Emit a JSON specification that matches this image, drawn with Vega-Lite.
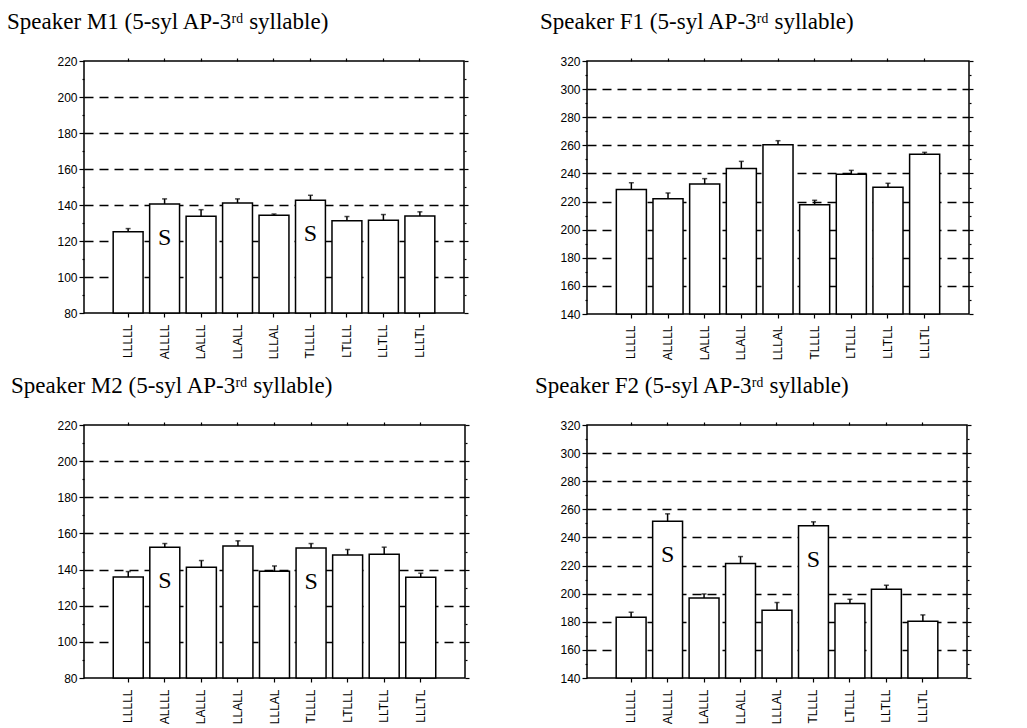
{
  "$schema": "https://vega.github.io/schema/vega-lite/v6.json",
  "background": "white",
  "padding": {"left": 6, "top": 10, "right": 5, "bottom": 0},
  "datasets": {
    "M1": [
      {"pattern": "LLLLL", "mean": 125.1, "upper": 126.9, "stress": ""},
      {"pattern": "ALLLL", "mean": 140.6, "upper": 143.4, "stress": "S"},
      {"pattern": "LALLL", "mean": 133.7, "upper": 137.4, "stress": ""},
      {"pattern": "LLALL", "mean": 141.1, "upper": 143.4, "stress": ""},
      {"pattern": "LLLAL", "mean": 134.3, "upper": 135.0, "stress": ""},
      {"pattern": "TLLLL", "mean": 142.6, "upper": 145.4, "stress": "S"},
      {"pattern": "LTLLL", "mean": 131.3, "upper": 133.6, "stress": ""},
      {"pattern": "LLTLL", "mean": 131.5, "upper": 134.7, "stress": ""},
      {"pattern": "LLLTL", "mean": 133.9, "upper": 136.2, "stress": ""}
    ],
    "F1": [
      {"pattern": "LLLLL", "mean": 228.5, "upper": 233.4, "stress": ""},
      {"pattern": "ALLLL", "mean": 222.0, "upper": 226.1, "stress": ""},
      {"pattern": "LALLL", "mean": 232.5, "upper": 236.3, "stress": ""},
      {"pattern": "LLALL", "mean": 243.6, "upper": 248.6, "stress": ""},
      {"pattern": "LLLAL", "mean": 260.5, "upper": 263.3, "stress": ""},
      {"pattern": "TLLLL", "mean": 217.8, "upper": 220.9, "stress": ""},
      {"pattern": "LTLLL", "mean": 239.4, "upper": 242.2, "stress": ""},
      {"pattern": "LLTLL", "mean": 230.1, "upper": 233.0, "stress": ""},
      {"pattern": "LLLTL", "mean": 253.6, "upper": 255.0, "stress": ""}
    ],
    "M2": [
      {"pattern": "LLLLL", "mean": 135.9, "upper": 138.9, "stress": ""},
      {"pattern": "ALLLL", "mean": 152.4, "upper": 154.4, "stress": "S"},
      {"pattern": "LALLL", "mean": 141.3, "upper": 145.0, "stress": ""},
      {"pattern": "LLALL", "mean": 153.0, "upper": 155.9, "stress": ""},
      {"pattern": "LLLAL", "mean": 139.1, "upper": 142.0, "stress": ""},
      {"pattern": "TLLLL", "mean": 151.9, "upper": 154.4, "stress": "S"},
      {"pattern": "LTLLL", "mean": 148.1, "upper": 151.1, "stress": ""},
      {"pattern": "LLTLL", "mean": 148.5, "upper": 152.4, "stress": ""},
      {"pattern": "LLLTL", "mean": 135.7, "upper": 138.0, "stress": ""}
    ],
    "F2": [
      {"pattern": "LLLLL", "mean": 183.2, "upper": 186.8, "stress": ""},
      {"pattern": "ALLLL", "mean": 251.6, "upper": 256.8, "stress": "S"},
      {"pattern": "LALLL", "mean": 197.0, "upper": 199.8, "stress": ""},
      {"pattern": "LLALL", "mean": 221.5, "upper": 226.4, "stress": ""},
      {"pattern": "LLLAL", "mean": 188.2, "upper": 193.7, "stress": ""},
      {"pattern": "TLLLL", "mean": 248.3, "upper": 251.1, "stress": "S"},
      {"pattern": "LTLLL", "mean": 193.0, "upper": 196.0, "stress": ""},
      {"pattern": "LLTLL", "mean": 203.2, "upper": 206.0, "stress": ""},
      {"pattern": "LLLTL", "mean": 180.4, "upper": 184.9, "stress": ""}
    ]
  },
  "columns": 2,
  "spacing": {"column": 122, "row": 111},
  "bounds": "flush",
  "concat": [
    {
      "title": {"text": "Speaker M1 (5-syl AP-3ʳᵈ syllable)", "dx": -77},
      "data": {"name": "M1"},
      "width": 380, "height": 252,
      "resolve": {"axis": {"x": "independent", "y": "independent"}},
      "layer": [
        {
          "mark": {"type": "bar", "fill": "white", "stroke": "black", "strokeWidth": 1.5},
          "encoding": {
            "x": {"field": "pattern", "type": "nominal", "sort": null,
                  "scale": {"paddingInner": 0.18, "paddingOuter": 0.8},
                  "axis": {"orient": "bottom", "title": null, "labelAngle": -90, "tickSize": 4, "labelPadding": 7}},
            "y": {"field": "mean", "type": "quantitative",
                  "scale": {"domain": [80, 220], "zero": false, "nice": false},
                  "axis": {"orient": "left", "title": null, "values": [80, 90, 100, 110, 120, 130, 140, 150, 160, 170, 180, 190, 200, 210, 220],
                           "labelExpr": "datum.value % 20 === 0 ? datum.label : ''",
                           "tickSize": {"condition": {"test": "datum.value % 20 === 0", "value": 5}, "value": 2},
                           "grid": true,
                           "gridOpacity": {"condition": {"test": "datum.value % 20 === 0 && datum.value > 80 && datum.value < 220", "value": 1}, "value": 0}}},
            "y2": {"datum": 80}
          }
        },
        {
          "mark": {"type": "rule", "stroke": "black", "strokeWidth": 1.5},
          "encoding": {
            "x": {"field": "pattern", "type": "nominal", "sort": null,
                  "axis": {"orient": "top", "title": null, "labels": false, "tickSize": 3, "grid": false}},
            "y": {"field": "mean", "type": "quantitative",
                  "axis": {"orient": "right", "title": null, "labels": false, "grid": false,
                           "values": [80, 90, 100, 110, 120, 130, 140, 150, 160, 170, 180, 190, 200, 210, 220],
                           "tickSize": {"condition": {"test": "datum.value % 20 === 0", "value": 4}, "value": 2}}},
            "y2": {"field": "upper"}
          }
        },
        {
          "mark": {"type": "tick", "color": "black", "thickness": 1.5, "size": 5},
          "encoding": {
            "x": {"field": "pattern", "type": "nominal", "sort": null, "axis": null},
            "y": {"field": "upper", "type": "quantitative", "axis": null}
          }
        },
        {
          "transform": [{"filter": "datum.stress === 'S'"}],
          "mark": {"type": "text", "font": "Liberation Serif", "fontSize": 24, "dy": 34, "baseline": "middle", "color": "black"},
          "encoding": {
            "x": {"field": "pattern", "type": "nominal", "sort": null, "axis": null},
            "y": {"field": "mean", "type": "quantitative", "axis": null},
            "text": {"field": "stress"}
          }
        }
      ]
    },
    {
      "title": {"text": "Speaker F1 (5-syl AP-3ʳᵈ syllable)", "dx": -47},
      "data": {"name": "F1"},
      "width": 382, "height": 253,
      "resolve": {"axis": {"x": "independent", "y": "independent"}},
      "layer": [
        {
          "mark": {"type": "bar", "fill": "white", "stroke": "black", "strokeWidth": 1.5},
          "encoding": {
            "x": {"field": "pattern", "type": "nominal", "sort": null,
                  "scale": {"paddingInner": 0.18, "paddingOuter": 0.8},
                  "axis": {"orient": "bottom", "title": null, "labelAngle": -90, "tickSize": 4, "labelPadding": 7}},
            "y": {"field": "mean", "type": "quantitative",
                  "scale": {"domain": [140, 320], "zero": false, "nice": false},
                  "axis": {"orient": "left", "title": null, "values": [140, 150, 160, 170, 180, 190, 200, 210, 220, 230, 240, 250, 260, 270, 280, 290, 300, 310, 320],
                           "labelExpr": "datum.value % 20 === 0 ? datum.label : ''",
                           "tickSize": {"condition": {"test": "datum.value % 20 === 0", "value": 5}, "value": 2},
                           "grid": true,
                           "gridOpacity": {"condition": {"test": "datum.value % 20 === 0 && datum.value > 140 && datum.value < 320", "value": 1}, "value": 0}}},
            "y2": {"datum": 140}
          }
        },
        {
          "mark": {"type": "rule", "stroke": "black", "strokeWidth": 1.5},
          "encoding": {
            "x": {"field": "pattern", "type": "nominal", "sort": null,
                  "axis": {"orient": "top", "title": null, "labels": false, "tickSize": 3, "grid": false}},
            "y": {"field": "mean", "type": "quantitative",
                  "axis": {"orient": "right", "title": null, "labels": false, "grid": false,
                           "values": [140, 150, 160, 170, 180, 190, 200, 210, 220, 230, 240, 250, 260, 270, 280, 290, 300, 310, 320],
                           "tickSize": {"condition": {"test": "datum.value % 20 === 0", "value": 4}, "value": 2}}},
            "y2": {"field": "upper"}
          }
        },
        {
          "mark": {"type": "tick", "color": "black", "thickness": 1.5, "size": 5},
          "encoding": {
            "x": {"field": "pattern", "type": "nominal", "sort": null, "axis": null},
            "y": {"field": "upper", "type": "quantitative", "axis": null}
          }
        }
      ]
    },
    {
      "title": {"text": "Speaker M2 (5-syl AP-3ʳᵈ syllable)", "dx": -73},
      "data": {"name": "M2"},
      "width": 381, "height": 253,
      "resolve": {"axis": {"x": "independent", "y": "independent"}},
      "layer": [
        {
          "mark": {"type": "bar", "fill": "white", "stroke": "black", "strokeWidth": 1.5},
          "encoding": {
            "x": {"field": "pattern", "type": "nominal", "sort": null,
                  "scale": {"paddingInner": 0.18, "paddingOuter": 0.8},
                  "axis": {"orient": "bottom", "title": null, "labelAngle": -90, "tickSize": 4, "labelPadding": 7}},
            "y": {"field": "mean", "type": "quantitative",
                  "scale": {"domain": [80, 220], "zero": false, "nice": false},
                  "axis": {"orient": "left", "title": null, "values": [80, 90, 100, 110, 120, 130, 140, 150, 160, 170, 180, 190, 200, 210, 220],
                           "labelExpr": "datum.value % 20 === 0 ? datum.label : ''",
                           "tickSize": {"condition": {"test": "datum.value % 20 === 0", "value": 5}, "value": 2},
                           "grid": true,
                           "gridOpacity": {"condition": {"test": "datum.value % 20 === 0 && datum.value > 80 && datum.value < 220", "value": 1}, "value": 0}}},
            "y2": {"datum": 80}
          }
        },
        {
          "mark": {"type": "rule", "stroke": "black", "strokeWidth": 1.5},
          "encoding": {
            "x": {"field": "pattern", "type": "nominal", "sort": null,
                  "axis": {"orient": "top", "title": null, "labels": false, "tickSize": 3, "grid": false}},
            "y": {"field": "mean", "type": "quantitative",
                  "axis": {"orient": "right", "title": null, "labels": false, "grid": false,
                           "values": [80, 90, 100, 110, 120, 130, 140, 150, 160, 170, 180, 190, 200, 210, 220],
                           "tickSize": {"condition": {"test": "datum.value % 20 === 0", "value": 4}, "value": 2}}},
            "y2": {"field": "upper"}
          }
        },
        {
          "mark": {"type": "tick", "color": "black", "thickness": 1.5, "size": 5},
          "encoding": {
            "x": {"field": "pattern", "type": "nominal", "sort": null, "axis": null},
            "y": {"field": "upper", "type": "quantitative", "axis": null}
          }
        },
        {
          "transform": [{"filter": "datum.stress === 'S'"}],
          "mark": {"type": "text", "font": "Liberation Serif", "fontSize": 24, "dy": 34, "baseline": "middle", "color": "black"},
          "encoding": {
            "x": {"field": "pattern", "type": "nominal", "sort": null, "axis": null},
            "y": {"field": "mean", "type": "quantitative", "axis": null},
            "text": {"field": "stress"}
          }
        }
      ]
    },
    {
      "title": {"text": "Speaker F2 (5-syl AP-3ʳᵈ syllable)", "dx": -52},
      "data": {"name": "F2"},
      "width": 380, "height": 253,
      "resolve": {"axis": {"x": "independent", "y": "independent"}},
      "layer": [
        {
          "mark": {"type": "bar", "fill": "white", "stroke": "black", "strokeWidth": 1.5},
          "encoding": {
            "x": {"field": "pattern", "type": "nominal", "sort": null,
                  "scale": {"paddingInner": 0.18, "paddingOuter": 0.8},
                  "axis": {"orient": "bottom", "title": null, "labelAngle": -90, "tickSize": 4, "labelPadding": 7}},
            "y": {"field": "mean", "type": "quantitative",
                  "scale": {"domain": [140, 320], "zero": false, "nice": false},
                  "axis": {"orient": "left", "title": null, "values": [140, 150, 160, 170, 180, 190, 200, 210, 220, 230, 240, 250, 260, 270, 280, 290, 300, 310, 320],
                           "labelExpr": "datum.value % 20 === 0 ? datum.label : ''",
                           "tickSize": {"condition": {"test": "datum.value % 20 === 0", "value": 5}, "value": 2},
                           "grid": true,
                           "gridOpacity": {"condition": {"test": "datum.value % 20 === 0 && datum.value > 140 && datum.value < 320", "value": 1}, "value": 0}}},
            "y2": {"datum": 140}
          }
        },
        {
          "mark": {"type": "rule", "stroke": "black", "strokeWidth": 1.5},
          "encoding": {
            "x": {"field": "pattern", "type": "nominal", "sort": null,
                  "axis": {"orient": "top", "title": null, "labels": false, "tickSize": 3, "grid": false}},
            "y": {"field": "mean", "type": "quantitative",
                  "axis": {"orient": "right", "title": null, "labels": false, "grid": false,
                           "values": [140, 150, 160, 170, 180, 190, 200, 210, 220, 230, 240, 250, 260, 270, 280, 290, 300, 310, 320],
                           "tickSize": {"condition": {"test": "datum.value % 20 === 0", "value": 4}, "value": 2}}},
            "y2": {"field": "upper"}
          }
        },
        {
          "mark": {"type": "tick", "color": "black", "thickness": 1.5, "size": 5},
          "encoding": {
            "x": {"field": "pattern", "type": "nominal", "sort": null, "axis": null},
            "y": {"field": "upper", "type": "quantitative", "axis": null}
          }
        },
        {
          "transform": [{"filter": "datum.stress === 'S'"}],
          "mark": {"type": "text", "font": "Liberation Serif", "fontSize": 24, "dy": 34, "baseline": "middle", "color": "black"},
          "encoding": {
            "x": {"field": "pattern", "type": "nominal", "sort": null, "axis": null},
            "y": {"field": "mean", "type": "quantitative", "axis": null},
            "text": {"field": "stress"}
          }
        }
      ]
    }
  ],
  "config": {
    "view": {"stroke": "black", "strokeWidth": 1.5, "fill": "white"},
    "title": {"anchor": "start", "frame": "group", "font": "Liberation Serif", "fontSize": 23, "fontWeight": "normal", "color": "black", "baseline": "alphabetic", "offset": 21},
    "axis": {
      "domain": false,
      "tickColor": "black", "tickWidth": 1.2,
      "labelFont": "Liberation Sans", "labelFontSize": 12, "labelColor": "black",
      "gridColor": "black", "gridWidth": 1.5, "gridDash": [9, 6]
    }
  }
}
